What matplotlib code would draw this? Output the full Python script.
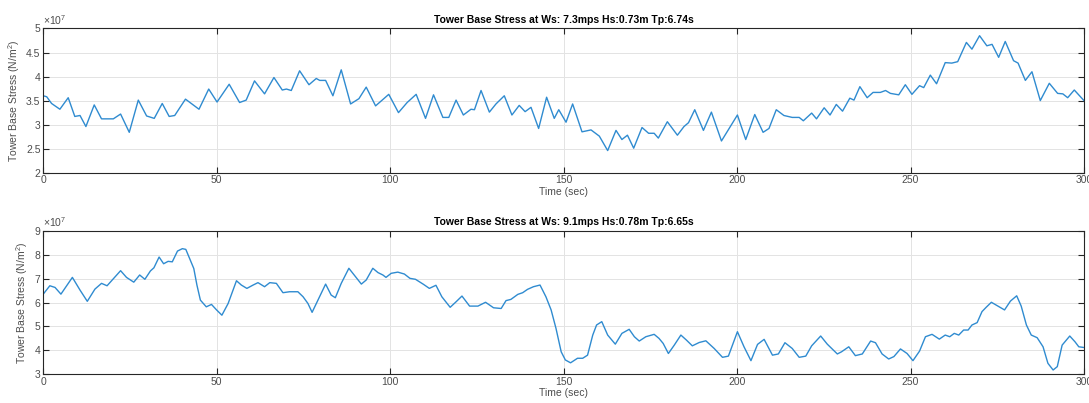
import matplotlib
matplotlib.use("Agg")
import matplotlib.pyplot as plt
from matplotlib.ticker import FuncFormatter, MultipleLocator

# ---- data (stress in units of 1e7 N/m^2) ----
t_top = [0, 1, 2.4, 4.8, 7.2, 9.1, 10.6, 12.3, 14.7, 16.8, 20.2, 22.3, 24.8, 27.4, 29.8, 32,
         34.3, 36.3, 37.9, 41, 44.9, 47.7, 50.1, 53.6, 56.6, 58.5, 60.9, 63.8, 66.5, 68.9,
         70.1, 71.5, 73.9, 76.6, 78.7, 79.7, 81.4, 83.5, 85.9, 88.6, 91, 93.1, 95.8, 99.6,
         102.4, 104.9, 107.5, 110.2, 112.5, 115.2, 116.9, 119, 121.1, 123.3, 124.3, 126.2,
         128.6, 130.5, 132.9, 135.1, 137.2, 138.9, 140.6, 142.8, 145.1, 147.3, 148.6, 150.7,
         152.6, 155.3, 157.9, 160.3, 162.7, 165.1, 166.8, 168.4, 170.2, 172.6, 174.5, 176.1,
         177.3, 179.9, 182.8, 184.7, 186, 187.8, 190.3, 192.6, 195.5, 197.7, 200.1, 202.5,
         205.1, 207.5, 209.2, 211.3, 213.5, 215.9, 217.9, 219.1, 221.5, 222.9, 225.1, 226.8,
         228.6, 230.4, 232.5, 233.7, 235.4, 237.5, 239.2, 241.3, 242.8, 244.2, 246.6, 248.5,
         250.4, 252.6, 253.8, 255.7, 257.5, 260, 261.9, 263.6, 266.1, 267.7, 269.9, 272,
         273.5, 275.4, 277.3, 279.7, 281, 283.1, 285, 287.4, 290, 292.4, 293.9, 295.3,
         297.2, 300]
s_top = [3.60, 3.58, 3.44, 3.32, 3.56, 3.17, 3.19, 2.96, 3.41, 3.12, 3.12, 3.22, 2.84, 3.51,
         3.18, 3.13, 3.44, 3.17, 3.19, 3.53, 3.32, 3.74, 3.47, 3.84, 3.46, 3.51, 3.91, 3.64,
         3.98, 3.72, 3.74, 3.71, 4.12, 3.83, 3.96, 3.92, 3.92, 3.60, 4.14, 3.43, 3.54, 3.78,
         3.39, 3.63, 3.25, 3.46, 3.63, 3.13, 3.62, 3.15, 3.15, 3.51, 3.20, 3.32, 3.31, 3.71,
         3.26, 3.43, 3.60, 3.20, 3.40, 3.27, 3.36, 2.92, 3.57, 3.13, 3.31, 3.05, 3.43, 2.85,
         2.89, 2.76, 2.46, 2.88, 2.69, 2.78, 2.51, 2.94, 2.82, 2.82, 2.72, 3.06, 2.78, 2.96,
         3.04, 3.31, 2.88, 3.26, 2.66, 2.92, 3.20, 2.69, 3.21, 2.84, 2.92, 3.31, 3.19, 3.15,
         3.15, 3.08, 3.24, 3.12, 3.35, 3.20, 3.42, 3.28, 3.55, 3.51, 3.79, 3.56, 3.67, 3.67,
         3.71, 3.65, 3.62, 3.83, 3.63, 3.81, 3.77, 4.03, 3.85, 4.29, 4.28, 4.31, 4.71, 4.57,
         4.85, 4.64, 4.67, 4.40, 4.73, 4.33, 4.28, 3.92, 4.10, 3.50, 3.86, 3.65, 3.64, 3.56,
         3.72, 3.50]

t_bot = [0, 1.9, 3.4, 5.1, 8.4, 10.6, 12.7, 14.9, 16.8, 18.4, 22.3, 24, 26.1, 27.8, 29.3,
         30.9, 31.9, 33.4, 34.7, 36, 37.2, 38.7, 40.1, 41.1, 42.2, 43.4, 44.3, 45.3, 47,
         48.5, 49.9, 51.5, 53.3, 55.7, 57.1, 58.7, 60.5, 61.9, 63.8, 65.3, 67.2, 69.1, 71,
         73.4, 74.9, 76.3, 77.5, 79.2, 81.4, 83, 84.2, 85.9, 88.1, 90, 91.7, 93.1, 95, 96.5,
         97.9, 98.8, 100.3, 102.2, 104.1, 105.7, 107.3, 109.6, 111.3, 113.2, 114.9, 117.3,
         119, 120.7, 122.9, 125.3, 127.5, 129.8, 132, 133.4, 134.8, 136.8, 138.2, 139.6,
         141.3, 143.2, 144.9, 146.4, 147.8, 149.3, 150.5, 152, 154, 155.5, 156.9, 158.4,
         159.5, 161, 162.7, 164.9, 166.8, 168.9, 170.4, 171.8, 173.7, 176.1, 177.5, 178.7,
         180.2, 181.9, 183.8, 185.4, 187.1, 189.1, 191, 193.4, 195.8, 197.5, 200.1, 202,
         204, 205.9, 207.8, 210.2, 211.9, 213.8, 215.9, 217.9, 219.8, 221.5, 224.1, 226,
         228.9, 230.1, 232.2, 234.1, 236.1, 238.5, 239.9, 241.8, 243.7, 245.2, 247.1, 249,
         250.7, 252.6, 254.3, 256.2, 258.3, 260, 261.3, 262.6, 263.9, 265.3, 266.6, 267.7,
         269.2, 270.6, 271.8, 273.3, 275.2, 277.1, 278.8, 280.6, 281.9, 283.4, 284.8, 286.5,
         288.2, 289.6, 291.1, 292.3, 293.7, 295.9, 297.4, 298.5, 300]
s_bot = [6.35, 6.70, 6.63, 6.35, 7.05, 6.52, 6.05, 6.56, 6.80, 6.70, 7.33, 7.05, 6.85, 7.15,
         6.97, 7.32, 7.45, 7.90, 7.62, 7.72, 7.70, 8.15, 8.25, 8.22, 7.84, 7.42, 6.73, 6.10,
         5.82, 5.92, 5.70, 5.47, 5.96, 6.91, 6.73, 6.59, 6.73, 6.83, 6.66, 6.83, 6.80, 6.41,
         6.45, 6.45, 6.24, 5.96, 5.59, 6.10, 6.77, 6.31, 6.20, 6.80, 7.43, 7.08, 6.77, 6.94,
         7.43, 7.25, 7.15, 7.05, 7.22, 7.27, 7.19, 7.01, 6.97, 6.76, 6.59, 6.72, 6.24, 5.80,
         6.03, 6.27, 5.85, 5.85, 6.01, 5.78, 5.75, 6.08, 6.13, 6.34, 6.41, 6.55, 6.66, 6.73,
         6.24, 5.69, 4.92, 3.94, 3.60, 3.48, 3.67, 3.67, 3.80, 4.64, 5.06, 5.20, 4.64, 4.26,
         4.71, 4.88, 4.57, 4.39, 4.57, 4.67, 4.50, 4.29, 3.87, 4.22, 4.64, 4.43, 4.19, 4.33,
         4.40, 4.08, 3.71, 3.76, 4.78, 4.15, 3.57, 4.25, 4.46, 3.80, 3.85, 4.32, 4.08, 3.71,
         3.76, 4.19, 4.60, 4.26, 3.85, 3.94, 4.15, 3.78, 3.85, 4.39, 4.32, 3.85, 3.64, 3.74,
         4.06, 3.87, 3.57, 3.97, 4.57, 4.67, 4.47, 4.64, 4.57, 4.71, 4.64, 4.85, 4.85, 5.06,
         5.16, 5.62, 5.80, 6.01, 5.85, 5.69, 6.06, 6.28, 5.85, 5.06, 4.64, 4.53, 4.15, 3.46,
         3.18, 3.32, 4.22, 4.60, 4.36, 4.15, 4.12]

titles = ["Tower Base Stress at Ws: 7.3mps Hs:0.73m Tp:6.74s",
          "Tower Base Stress at Ws: 9.1mps Hs:0.78m Tp:6.65s"]
ylims = [(2, 5), (3, 9)]
ysteps = [0.5, 1]
xlabel = "Time (sec)"
ylabel = "Tower Base Stress (N/m$^2$)"

plt.rcParams['font.family'] = ['Liberation Sans', 'DejaVu Sans']
plt.rcParams['mathtext.fontset'] = 'custom'
plt.rcParams['mathtext.rm'] = 'Liberation Sans'

fig = plt.figure(figsize=(10.89, 4.03), dpi=100)
rects = [[0.0397, 0.5715, 0.9557, 0.3578], [0.0397, 0.0712, 0.9557, 0.3563]]
line_color = '#2f8bd0'
axcol = '#262626'
tickcol = '#4d4d4d'

for rect, tt, ss, title, yl, ys in zip(rects, [t_top, t_bot], [s_top, s_bot],
                                        titles, ylims, ysteps):
    ax = fig.add_axes(rect)
    ax.plot(tt, ss, color=line_color, lw=1.0, solid_joinstyle='round')
    ax.set_xlim(0, 300)
    ax.set_ylim(*yl)
    ax.xaxis.set_major_locator(MultipleLocator(50))
    ax.yaxis.set_major_locator(MultipleLocator(ys))
    ax.yaxis.set_major_formatter(FuncFormatter(lambda v, p: f"{v:g}"))
    ax.grid(True, color='#e3e3e3', lw=0.7)
    ax.set_axisbelow(True)
    for sp in ax.spines.values():
        sp.set_color(axcol)
        sp.set_linewidth(0.8)
    ax.tick_params(direction='in', length=4, width=0.8, colors=axcol,
                   labelcolor=tickcol, labelsize=7.5, top=True, right=True, pad=2)
    ax.set_title(title, fontsize=7.5, fontweight='bold', pad=4, color='black')
    ax.set_xlabel(xlabel, fontsize=7.5, color=tickcol, labelpad=1)
    ax.set_ylabel(ylabel, fontsize=7.5, color=tickcol, labelpad=3)
    ax.text(0.0, 1.01, r"$\times10^{7}$", transform=ax.transAxes, fontsize=7.5,
            color=tickcol, ha='left', va='bottom')

fig.savefig("out.png", dpi=100)
